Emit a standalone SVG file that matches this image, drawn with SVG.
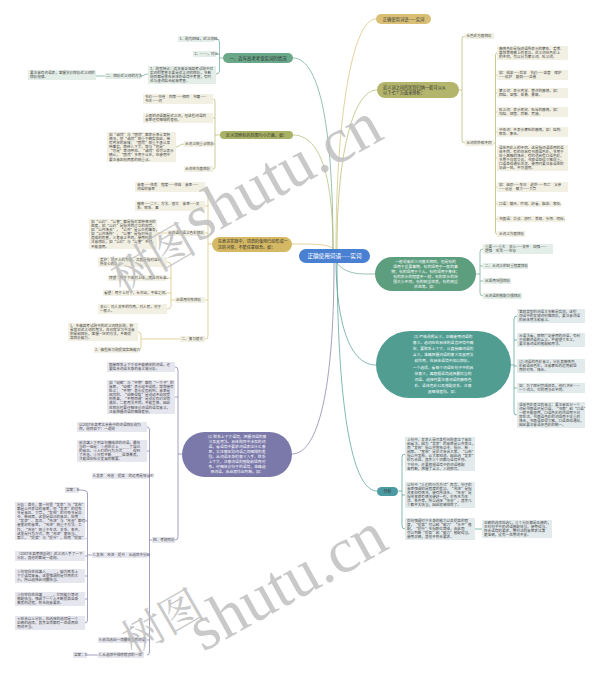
<svg xmlns="http://www.w3.org/2000/svg" width="600" height="675" viewBox="0 0 600 675">
<style>
text{font-family:"Noto Sans CJK SC","Noto Sans",sans-serif}
.lf{font-size:3.6px;fill:#454545}
.bo{fill:#f2f0e3}
.bg{fill:#e4eee8}
.bp{fill:#e6e6ef}
.bt{fill:#e2eaec}
.c{fill:none;stroke-width:0.7}
.cgold{stroke:#d6bf73}
.colv{stroke:#b3b66c}
.cgrn{stroke:#6aa889}
.cteal{stroke:#4e9b92}
.cpur{stroke:#7b79aa}
.wt{fill:#fff;font-size:3.8px}
.wm{font-family:"Liberation Serif","Noto Serif CJK SC","Noto Sans CJK SC",serif;fill:#bcbcbc;opacity:.8}
</style>
<rect width="600" height="675" fill="#fff"/>

<g id="connectors">
<path class="c cgold" d="M336,249 C336,120 352,19 376,19"/>
<path class="c colv" d="M337,249 C337,150 354,90 377,90"/>
<path class="c cgrn" d="M336,262 C346,275 360,274 375,274"/>
<path class="c cteal" d="M336,263 C337,330 352,365 376,365"/>
<path class="c cteal" d="M337,263 C338,420 354,491 377,491"/>
<path class="c cgrn" d="M333,249 C333,120 318,58 293,58"/>
<path class="c colv" d="M333,249 C333,170 318,135 293,135"/>
<path class="c cgold" d="M292,244 C315,244 328,244 334,249"/>
<path class="c cpur" d="M334,263 C334,390 318,454 292,454"/>
<path class="c colv" d="M459,90 H462 M465,36 Q462,36 462,39 V140 Q462,143 465,143"/>
<path class="c colv" d="M494,143 H495.5 M497,53 Q495.5,53 495.5,55 V232 Q495.5,234 497,234 M495.5,75 H497 M495.5,93 H497 M495.5,112 H497 M495.5,132 H497 M495.5,158 H497 M495.5,187 H497 M495.5,204 H497 M495.5,219 H497"/>
<path class="c cgrn" d="M476,274 H480 M483,249 Q480,249 480,252 V293 Q480,296 483,296 M480,266 H483 M480,281 H483"/>
<path class="c cteal" d="M511,365 H514 M517,316 Q514,316 514,319 V412 Q514,415 517,415 M514,340 H517 M514,366 H517 M514,388 H517"/>
<path class="c cteal" d="M398,491 H402 M405,454 Q402,454 402,457 V526 Q402,529 405,529 M402,495 H405 M475,529 H482"/>
<path class="c cgrn" d="M223,58 H219.5 M214,39 Q219.5,39 219.5,42 V71 Q219.5,74 216,74 M219.5,54 H216 M148,74 C145,74 144,76 141,76 M105,76 H96"/>
<path class="c colv" d="M220,135 H215 M213,99 Q215,99 215,101 V167 Q215,169 213,169 M215,118 H213 M215,144 H213 M184,144 C180,144 179,147 176,147"/>
<path class="c cgold" d="M212,244 H208 M205,187 Q208,187 208,190 V336 Q208,339 205,339 M208,206 H205 M208,233 H205 M208,300 H205 M167,233 H157"/>
<path class="c cgold" d="M175,300 H171 M167,262 Q171,262 171,265 V306 Q171,309 167,309 M171,278 H166 M171,293 H167"/>
<path class="c cgold" d="M180,339 H141 M138,332 Q141,332 141,335 V347 Q141,350 138,350"/>
<path class="c cpur" d="M182,454 H178 M175,367 Q178,367 178,370 V537 Q178,540 175,540 M178,397 H175"/>
<path class="c cpur" d="M152,540 H149.5 M147,427 Q149.5,427 149.5,430 V652 Q149.5,655 147,655 M149.5,451 H147 M149.5,476 H147 M149.5,555 H147 M149.5,640 H147"/>
<path class="c cpur" d="M92,555 H87.5 M79,490 Q87.5,490 87.5,493 V620 Q87.5,623 85,623 M87.5,521 H85 M87.5,556 H85 M87.5,576 H85 M87.5,599 H85 M98,655 H87"/>
</g>

<g id="n-center"><rect x="299" y="249" width="71" height="14" rx="7" fill="#4a80d2"/><text x="334.5" y="258.1" font-size="5.6" fill="#fff" text-anchor="middle">正确使用词语——实词</text></g>

<g id="n-r1"><rect x="376" y="14" width="55" height="10" rx="5" fill="#d8bf74"/><text x="403.5" y="20.6" font-size="4.3" fill="#3a3a3a" text-anchor="middle">正确使用词语——实词</text></g>

<g id="n-r2"><rect x="377" y="82" width="82" height="16" rx="8" fill="#b2b56b"/><text font-size="4.2" fill="#333"><tspan x="383" y="88.6">近义词之间的区别归纳一般可以从</tspan><tspan x="383" y="94.4">以下七个方面来辨析：</tspan></text></g>
<g id="n-r2a"><rect class="bo" x="465" y="33" width="29" height="6"/><text class="lf" x="466.5" y="37.3">从色彩方面辨析</text></g>
<g id="n-r2b"><rect class="bo" x="465" y="140" width="29" height="6"/><text class="lf" x="466.5" y="144.3">从词的外部不同</text></g>
<g id="n-r2-1"><rect class="bo" x="497" y="46" width="71" height="14"/><text class="lf"><tspan x="499" y="49.9">感情色彩是指词语所表示的褒贬、爱憎、</tspan><tspan x="499" y="54">喜怒等情感上的差异，近义词在色彩上</tspan><tspan x="499" y="58.1">的不同，可以分为褒义词、贬义词。</tspan></text></g>
<g id="n-r2-2"><rect class="bo" x="497" y="70" width="71" height="10"/><text class="lf"><tspan x="499" y="73.9">如：成果——后果　节约——吝啬　保护</tspan><tspan x="499" y="78">——庇护　鼓励——怂恿</tspan></text></g>
<g id="n-r2-3"><rect class="bo" x="497" y="88" width="71" height="10"/><text class="lf"><tspan x="499" y="91.9">褒义词：表示肯定、赞许的感情，如：</tspan><tspan x="499" y="96">团结、坚强、英勇、勇敢。</tspan></text></g>
<g id="n-r2-4"><rect class="bo" x="497" y="107" width="71" height="10"/><text class="lf"><tspan x="499" y="110.9">贬义词：表示否定、贬斥的感情，如：</tspan><tspan x="499" y="115">勾结、顽固、武断、荒唐。</tspan></text></g>
<g id="n-r2-5"><rect class="bo" x="497" y="127" width="71" height="10"/><text class="lf"><tspan x="499" y="130.9">中性词：不表示褒贬的感情，如：结构、</tspan><tspan x="499" y="135">联系、集合。</tspan></text></g>
<g id="n-r2-6"><rect class="bo" x="497" y="145" width="71" height="26"/><text class="lf"><tspan x="499" y="148.9">语体色彩上的不同。这是指词语适用的语</tspan><tspan x="499" y="153">体不同。有的词具有书面语色彩，多用于</tspan><tspan x="499" y="157.1">庄重典雅的场合；有的词具有口语色彩，</tspan><tspan x="499" y="161.2">多用于日常交谈。书面语显得文雅庄重，</tspan><tspan x="499" y="165.3">口语显得通俗活泼。使用时要注意语体的</tspan><tspan x="499" y="169.4">协调一致，不可混用。</tspan></text></g>
<g id="n-r2-7"><rect class="bo" x="497" y="182" width="71" height="10"/><text class="lf"><tspan x="499" y="185.9">如：诞辰——生日　逝世——死亡　父亲</tspan><tspan x="499" y="190">——爸爸　散文——文章</tspan></text></g>
<g id="n-r2-8"><rect class="bo" x="497" y="201" width="64" height="6"/><text class="lf" x="499" y="205.3">口语：聊天、吓唬、好看、脑袋、家伙。</text></g>
<g id="n-r2-9"><rect class="bo" x="497" y="216" width="68" height="6"/><text class="lf" x="499" y="220.3">书面语：交谈、恐吓、美观、头颅、同伙。</text></g>
<g id="n-r2-10"><rect class="bo" x="497" y="231" width="28" height="6"/><text class="lf" x="499" y="235.3">从词义方面辨析</text></g>

<g id="n-r3"><rect x="375" y="257" width="101" height="34" rx="17" fill="#5d9e7f"/><text class="wt" text-anchor="middle"><tspan x="425.5" y="263">一般说来近义词基本相同，但是有的</tspan><tspan x="425.5" y="268">适用于重要事物，有的适用于一般的事</tspan><tspan x="425.5" y="273">物；有的适用于个人，有的适用于集体；</tspan><tspan x="425.5" y="278">有的表示的程度不一样，有的表示的范</tspan><tspan x="425.5" y="283">围大小不同，有的侧重性质，有的侧重</tspan><tspan x="425.5" y="288">状态等。如：</tspan></text></g>
<g id="n-r3-1"><rect class="bg" x="483" y="244" width="70" height="10"/><text class="lf"><tspan x="485" y="247.9">重要——重大　关心——关怀　加强——</tspan><tspan x="485" y="252">增强　生活——生存</tspan></text></g>
<g id="n-r3-2"><rect class="bg" x="483" y="263" width="45" height="6"/><text class="lf" x="485" y="267.3">二、从词义的轻重程度辨析</text></g>
<g id="n-r3-3"><rect class="bg" x="483" y="278" width="28" height="6"/><text class="lf" x="485" y="282.3">从适用范围辨析</text></g>
<g id="n-r3-4"><rect class="bg" x="483" y="293" width="39" height="6"/><text class="lf" x="485" y="297.3">从词语的搭配习惯辨析</text></g>

<g id="n-r4"><rect x="376" y="331" width="135" height="67" rx="33.5" fill="#519d92"/><text class="wt" text-anchor="middle"><tspan x="443" y="337.5">(1) 严格说明含义，正确使用词语的</tspan><tspan x="443" y="343.7">意义。选词应在具体的语言环境中确</tspan><tspan x="443" y="349.9">定，要联系上下文，认真揣摩词语的</tspan><tspan x="443" y="356.1">含义，准确把握词语的意义及其用法</tspan><tspan x="443" y="362.3">和作用，在具体语境中加以辨析。</tspan><tspan x="443" y="368.5">一个选项，看每个词语在句子中的具</tspan><tspan x="443" y="374.7">体意义，再根据语境选择最恰当的</tspan><tspan x="443" y="380.9">词语。选择时要注意词语的感情色</tspan><tspan x="443" y="387.1">彩、语体色彩以及搭配关系，注意</tspan><tspan x="443" y="393.3">其细微差别。如：</tspan></text></g>
<g id="n-r4-1"><rect class="bt" x="517" y="309" width="68" height="14"/><text class="lf"><tspan x="519" y="312.9">第四类型的词语大多数是实词，这些</tspan><tspan x="519" y="317">词语中的关键词较难辨析，要注意词语</tspan><tspan x="519" y="321.1">的具体用法和意义。</tspan></text></g>
<g id="n-r4-2"><rect class="bt" x="517" y="333" width="68" height="14"/><text class="lf"><tspan x="519" y="336.9">从语法看，思想广泛使用的词语，有利</tspan><tspan x="519" y="341">于理解词语的含义，不能望文生义，</tspan><tspan x="519" y="345.1">要注意词语的搭配和用法。</tspan></text></g>
<g id="n-r4-3"><rect class="bt" x="517" y="359" width="68" height="14"/><text class="lf"><tspan x="519" y="362.9">(2) 词语的色彩意义，分析其感情色</tspan><tspan x="519" y="367">彩和语体色彩，注意褒贬的运用和适</tspan><tspan x="519" y="371.1">用的对象、场合。</tspan></text></g>
<g id="n-r4-4"><rect class="bt" x="517" y="383" width="68" height="10"/><text class="lf"><tspan x="519" y="386.9">如：为了顺利完成任务，他们决定……</tspan><tspan x="519" y="391">一个词义，它的用法也不同。</tspan></text></g>
<g id="n-r4-5"><rect class="bt" x="517" y="402" width="68" height="26"/><text class="lf"><tspan x="519" y="405.9">语体色彩表达的意义：要注意区分一个</tspan><tspan x="519" y="410">词是书面语还是口语，“书面”和“口语”</tspan><tspan x="519" y="414.1">一般不能混用，口语色彩的词适用于日</tspan><tspan x="519" y="418.2">常生活，书面语色彩的词适用于庄重的</tspan><tspan x="519" y="422.3">场合，书面语显得文雅，口语显得通俗，</tspan><tspan x="519" y="426.4">因此要注意语体色彩的统一。</tspan></text></g>

<g id="n-r5"><rect x="377" y="487" width="21" height="9" rx="4.5" fill="#4c9aa2"/><text x="387.5" y="493" font-size="4" fill="#333" text-anchor="middle">分析</text></g>
<g id="n-r5-1"><rect class="bt" x="405" y="437" width="70" height="34"/><text class="lf"><tspan x="407" y="440.9">上句中，发表人是对某些问题表达了意见</tspan><tspan x="407" y="445">和看法，因为“发表”的意思是公开表达，</tspan><tspan x="407" y="449.1">而“发布”指公开宣布命令、指示、新</tspan><tspan x="407" y="453.2">闻等。“宣布”是正式告诉大家，“公布”</tspan><tspan x="407" y="457.3">指公开发布，让大家知道。因此选“发表”</tspan><tspan x="407" y="461.4">较为合适，其余三个词都与语境不符。</tspan><tspan x="407" y="465.5">下句中，还要根据语境中的词语搭配</tspan><tspan x="407" y="469.6">来判断，把握了含义，入题即可。</tspan></text></g>
<g id="n-r5-2"><rect class="bt" x="405" y="482" width="70" height="26"/><text class="lf"><tspan x="407" y="485.9">以句中“人们的行为方式”而言，句子的</tspan><tspan x="407" y="490">意思强调的是程度的差异，“改进”是指</tspan><tspan x="407" y="494.1">改变旧有情况，使有所进步，“改善”是</tspan><tspan x="407" y="498.2">指改变原有情况使好一些，对象多为生</tspan><tspan x="407" y="502.3">活、条件等，所以选择“改善”，其余几</tspan><tspan x="407" y="506.4">个都不太恰当，因此就被排除了。</tspan></text></g>
<g id="n-r5-3"><rect class="bt" x="405" y="518" width="70" height="22"/><text class="lf"><tspan x="407" y="521.9">后句强调对于本身的能力以及提高的程</tspan><tspan x="407" y="526">度，“提高”可以和“能力”“水平”搭</tspan><tspan x="407" y="530.1">配，“提升”多指职位等级，由此而</tspan><tspan x="407" y="534.2">可以判断“提高”和“能力”搭配得当，</tspan><tspan x="407" y="538.3">使用正确，其他不符合要求。</tspan></text></g>
<g id="n-r5-4"><rect class="bt" x="482" y="520" width="70" height="18"/><text class="lf"><tspan x="484" y="523.9">正确的选项应选C，三个分析都是正确的，</tspan><tspan x="484" y="528">本句句子中的词语搭配恰当，使用得当，</tspan><tspan x="484" y="532.1">符合语境的要求，整句话的意思表达清</tspan><tspan x="484" y="536.2">楚准确，没有一处用词不妥。</tspan></text></g>

<g id="n-l1"><rect x="223" y="53" width="70" height="10" rx="5" fill="#6aa889"/><text x="258" y="59.6" font-size="4.4" fill="#2f2f2f" text-anchor="middle">一、近年高考考查实词的情况</text></g>
<g id="n-l1-1"><rect class="bg" x="178" y="36" width="36" height="6"/><text class="lf" x="179.5" y="40.3">1、题为四组，近义词辨。</text></g>
<g id="n-l1-2"><rect class="bg" x="193" y="51" width="23" height="6"/><text class="lf" x="194.5" y="55.3">2、……，对比</text></g>
<g id="n-l1-3"><rect class="bg" x="148" y="66" width="68" height="18"/><text class="lf"><tspan x="150" y="69.9">3、题型特点：近年来各地高考试题中对</tspan><tspan x="150" y="74">实词的考查主要是近义词的辨析，多数</tspan><tspan x="150" y="78.1">题目都是放在具体的语境中考查，有时</tspan><tspan x="150" y="82.2">也与虚词结合起来考查。</tspan></text></g>
<g id="n-l1-4"><rect class="bg" x="105" y="73" width="36" height="6"/><text class="lf" x="106" y="77.3">二、辨析近义词的方法</text></g>
<g id="n-l1-5"><rect class="bg" x="28" y="70" width="68" height="10"/><text class="lf"><tspan x="30" y="73.9">要注意有词语表，掌握学会辨析近义词的</tspan><tspan x="30" y="78">辨析规律。</tspan></text></g>

<g id="n-l2"><rect x="220" y="131" width="73" height="8" rx="4" fill="#a9b264"/><text x="256.5" y="136.5" font-size="4.1" fill="#2f2f2f" text-anchor="middle">近义词辨析的范围与小方面，如：</text></g>
<g id="n-l2-1"><rect class="bo" x="143" y="94" width="70" height="10"/><text class="lf"><tspan x="145" y="97.9">节约——节省　同等——相同　书籍——</tspan><tspan x="145" y="102">书本——词</tspan></text></g>
<g id="n-l2-2"><rect class="bo" x="143" y="113" width="70" height="10"/><text class="lf"><tspan x="145" y="116.9">上面的词语都是近义词，但这些词语的</tspan><tspan x="145" y="121">意思还有细微的差别。</tspan></text></g>
<g id="n-l2-3"><rect class="bo" x="184" y="141" width="29" height="6"/><text class="lf" x="185" y="145.3">从词义侧重点辨析</text></g>
<g id="n-l2-4"><rect class="bo" x="107" y="132" width="69" height="30"/><text class="lf"><tspan x="109" y="135.9">如“诚然”与“固然”都表示承认某种</tspan><tspan x="109" y="140">情况，但“诚然”侧重于确实如此，带</tspan><tspan x="109" y="144.1">有肯定的意味；“固然”侧重于承认某</tspan><tspan x="109" y="148.2">种事实，再转入下文，常与“但是”</tspan><tspan x="109" y="152.3">“可是”等词呼应。“诚然”也可以表示</tspan><tspan x="109" y="156.4">确认，“固然”多用于让步，在使用中</tspan><tspan x="109" y="160.5">要注意区别两者的侧重点。</tspan></text></g>
<g id="n-l2-5"><rect class="bo" x="184" y="166" width="29" height="6"/><text class="lf" x="185" y="170.3">从词性方面辨析</text></g>

<g id="n-l3"><rect x="212" y="237" width="80" height="15" rx="7.5" fill="#d5b863"/><text font-size="4.1" fill="#2f2f2f"><tspan x="218" y="243.3">在表达实践中，词语的使用已经形成一</tspan><tspan x="218" y="248.6">定的习惯，不能任意组合。如：</tspan></text></g>
<g id="n-l3-1"><rect class="bo" x="135" y="182" width="70" height="10"/><text class="lf"><tspan x="137" y="185.9">意思——性质　程度——性格　意思——</tspan><tspan x="137" y="190">词语的意思</tspan></text></g>
<g id="n-l3-2"><rect class="bo" x="135" y="201" width="70" height="10"/><text class="lf"><tspan x="137" y="204.9">感情——二个、方法、很大　意思——关</tspan><tspan x="137" y="209">系、联系、事</tspan></text></g>
<g id="n-l3-3"><rect class="bo" x="167" y="230" width="38" height="6"/><text class="lf" x="168" y="234.3">从词语的语义色彩辨析</text></g>
<g id="n-l3-4"><rect class="bo" x="89" y="219" width="68" height="30"/><text class="lf"><tspan x="91" y="222.9">如“公约”“公害”都是指对某种情况的</tspan><tspan x="91" y="227">态度，如“公约”是指共同订立的规章，</tspan><tspan x="91" y="231.1">如“公开场合”，“公共”是公众的事务，</tspan><tspan x="91" y="235.2">如“公共场所”，“公害”是指对社会</tspan><tspan x="91" y="239.3">造成的危害，三者意义不同，使用时要</tspan><tspan x="91" y="243.4">注意辨析，如“公约”与“公害”不同，</tspan><tspan x="91" y="247.5">不能混用。</tspan></text></g>
<g id="n-l3-5"><rect class="bo" x="175" y="297" width="30" height="6"/><text class="lf" x="176" y="301.3">从适用对象辨析</text></g>
<g id="n-l3-6"><rect class="bo" x="98" y="257" width="69" height="10"/><text class="lf"><tspan x="100" y="260.9">爱护：用于人的方面，尤其是指对自己</tspan><tspan x="100" y="265">所关心的人。</tspan></text></g>
<g id="n-l3-7"><rect class="bo" x="108" y="275" width="58" height="6"/><text class="lf" x="109" y="279.3">拜望：用于下级对上级，晚辈对长辈。</text></g>
<g id="n-l3-8"><rect class="bo" x="103" y="290" width="64" height="6"/><text class="lf" x="104" y="294.3">看望：用于上对下，长对幼，平辈之间。</text></g>
<g id="n-l3-9"><rect class="bo" x="98" y="304" width="69" height="10"/><text class="lf"><tspan x="100" y="307.9">关心：对人关怀的作用，对人民，对于</tspan><tspan x="100" y="312">一般人。</tspan></text></g>
<g id="n-l3-10"><rect class="bo" x="180" y="336" width="25" height="6"/><text class="lf" x="181.5" y="340.3">二、复习建议</text></g>
<g id="n-l3-11"><rect class="bo" x="68" y="323" width="70" height="18"/><text class="lf"><tspan x="70" y="326.9">1、多做高考试题中的近义词辨析题，积</tspan><tspan x="70" y="331">累常见近义词的用法，在日常学习中注意</tspan><tspan x="70" y="335.1">积累和辨析，掌握一定的方法，不断提</tspan><tspan x="70" y="339.2">高辨析能力。</tspan></text></g>
<g id="n-l3-12"><rect class="bo" x="94" y="347" width="44" height="6"/><text class="lf" x="95" y="351.3">2、做些练习题提高实践能力</text></g>

<g id="n-l4"><rect x="182" y="432" width="110" height="45" rx="22.5" fill="#7b79aa"/><text class="wt" text-anchor="middle"><tspan x="237" y="438.3">(1) 联系上下文语境，把握词语的意</tspan><tspan x="237" y="443.3">义及其用法。具体题目中涉及的词</tspan><tspan x="237" y="448.3">语，看语境中要求词语表达什么意</tspan><tspan x="237" y="453.3">思，又注意区别词语之间细微的差</tspan><tspan x="237" y="458.3">别。从词语本身的意义入手，联系</tspan><tspan x="237" y="463.3">上下文，注意词语的搭配和适用对</tspan><tspan x="237" y="468.3">象。仔细体会句子的语境，准确选</tspan><tspan x="237" y="473.3">择词语，由此而作出判断。如：</tspan></text></g>
<g id="n-l4-1"><rect class="bp" x="107" y="362" width="68" height="10"/><text class="lf"><tspan x="109" y="365.9">即使联系上下文也不能确定的词语，还</tspan><tspan x="109" y="370">要结合词语本身的意义来分析。</tspan></text></g>
<g id="n-l4-2"><rect class="bp" x="107" y="380" width="68" height="34"/><text class="lf"><tspan x="109" y="383.9">如“动辄”与“不期”都有“一下子”的</tspan><tspan x="109" y="388">意思，“动辄”表示动不动就，常常带有</tspan><tspan x="109" y="392.1">贬义；“不期”表示没有料到，意思是</tspan><tspan x="109" y="396.2">偶然的。“动辄得咎”是说动不动就受</tspan><tspan x="109" y="400.3">到责备，“不期而遇”是说没有约定而</tspan><tspan x="109" y="404.4">遇见，二者用法不同，不能互换。因此</tspan><tspan x="109" y="408.5">在辨析时要仔细体会词语的语境意义，</tspan><tspan x="109" y="412.6">注意把握词语的细微差别。</tspan></text></g>
<g id="n-l4-3"><rect class="bp" x="152" y="537" width="23" height="6"/><text class="lf" x="153" y="541.3">四、考题例析</text></g>
<g id="n-l4-4"><rect class="bp" x="77" y="422" width="70" height="10"/><text class="lf"><tspan x="79" y="425.9">以2007年高考北京卷中的词语辨析题为</tspan><tspan x="79" y="430">例，题目如下：一道题</tspan></text></g>
<g id="n-l4-5"><rect class="bp" x="77" y="440" width="70" height="22"/><text class="lf"><tspan x="79" y="443.9">依次填入下列各句横线处的词语，最恰</tspan><tspan x="79" y="448">当的一组是：①他在会上＿＿＿了自己</tspan><tspan x="79" y="452.1">的意见。②人们的行为方式＿＿＿得到</tspan><tspan x="79" y="456.2">了改善。③只有不断＿＿＿自身素质，</tspan><tspan x="79" y="460.3">才能适应社会发展的需要。</tspan></text></g>
<g id="n-l4-6"><rect class="bp" x="92" y="473" width="55" height="6"/><text class="lf" x="93" y="477.3">A.发表　改善　提高　的运用是恰当的</text></g>
<g id="n-l4-7"><rect class="bp" x="92" y="552" width="55" height="6"/><text class="lf" x="93" y="556.3">C.发布　改进　提升　从选项中分析</text></g>
<g id="n-l4-8"><rect class="bp" x="65" y="487" width="14" height="6"/><text class="lf" x="66" y="491.3">答案：B</text></g>
<g id="n-l4-9"><rect class="bp" x="15" y="502" width="70" height="38"/><text class="lf"><tspan x="17" y="505.9">分析：首先，第一句里“发表”与“发布”</tspan><tspan x="17" y="510">都是公开表达的意思，但“发表”的对象</tspan><tspan x="17" y="514.1">多是意见、文章，“发布”的对象多是命</tspan><tspan x="17" y="518.2">令、新闻等，这里是自己的意见，应用</tspan><tspan x="17" y="522.3">“发表”。其次，“改进”与“改善”都有</tspan><tspan x="17" y="526.4">使变好的意思，“改进”侧重于方法、工</tspan><tspan x="17" y="530.5">作，“改善”侧重于生活、关系、条件，</tspan><tspan x="17" y="534.6">这里是行为方式，用“改进”更恰当。</tspan><tspan x="17" y="538.7">第三，“提高”与“提升”，应用“提高”。</tspan></text></g>
<g id="n-l4-10"><rect class="bp" x="15" y="551" width="70" height="10"/><text class="lf"><tspan x="17" y="554.9">（2007年高考辨析题）近义词入手了一下</tspan><tspan x="17" y="559">分析，其他的都是一道题。</tspan></text></g>
<g id="n-l4-11"><rect class="bp" x="15" y="569" width="70" height="14"/><text class="lf"><tspan x="17" y="572.9">②句空白处应填入＿＿＿，因为联系上</tspan><tspan x="17" y="577">下文语境来看，这里强调的是作用的大</tspan><tspan x="17" y="581.1">小，所以选择此词最恰当。</tspan></text></g>
<g id="n-l4-12"><rect class="bp" x="15" y="592" width="70" height="14"/><text class="lf"><tspan x="17" y="595.9">③句空白处应填＿＿＿，它同能力等词</tspan><tspan x="17" y="600">搭配恰当，强调了一个人不断提高自身</tspan><tspan x="17" y="604.1">素质的过程，符合题意要求。</tspan></text></g>
<g id="n-l4-13"><rect class="bp" x="15" y="616" width="70" height="14"/><text class="lf"><tspan x="17" y="619.9">④综合以上分析，应选择的选项是一个</tspan><tspan x="17" y="624">正确的选项，其余各项都有一处或两处</tspan><tspan x="17" y="628.1">用词不当。</tspan></text></g>
<g id="n-l4-14"><rect class="bp" x="98" y="637" width="49" height="6"/><text class="lf" x="99" y="641.3">A.依次选出一项最恰当的词语</text></g>
<g id="n-l4-15"><rect class="bp" x="98" y="652" width="46" height="6"/><text class="lf" x="99" y="656.3">C.从选项中排除错误的一项</text></g>
<g id="n-l4-16"><rect class="bp" x="73" y="652" width="14" height="6"/><text class="lf" x="74" y="656.3">答案：D</text></g>

<g id="watermark">
<text class="wm" font-size="44" text-anchor="middle" transform="translate(152,258) rotate(-30)" y="16">树图</text>
<text class="wm" font-size="64" text-anchor="middle" transform="translate(292,190) rotate(-29)">shutu.cn</text>
<text class="wm" font-size="42" text-anchor="middle" transform="translate(162,622) rotate(-30)" y="15">树图</text>
<text class="wm" font-size="64" text-anchor="middle" transform="translate(297,600) rotate(-29)">shutu.cn</text>
</g>
</svg>
